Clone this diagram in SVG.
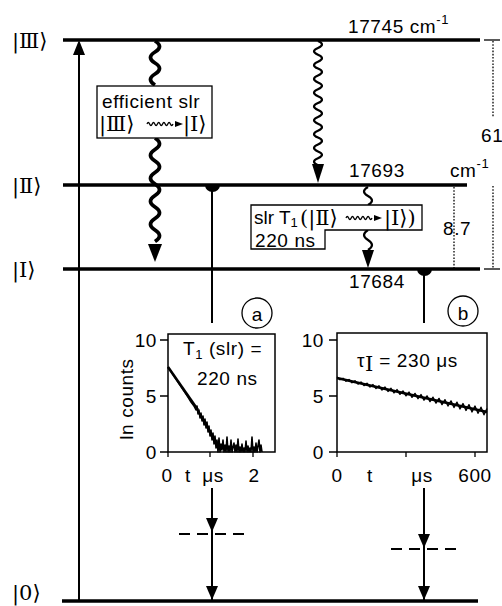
<svg xmlns="http://www.w3.org/2000/svg" width="502" height="606" viewBox="0 0 502 606">
<style>
text{font-family:"Liberation Sans",Arial,sans-serif;font-size:19px;fill:#000;letter-spacing:0.6px}
.ket{font-family:"DejaVu Serif","Liberation Serif",serif;font-size:21px;letter-spacing:0}
.lvl{stroke:#000;stroke-width:3.5;fill:none}
.ln{stroke:#000;stroke-width:2;fill:none}
.thin{stroke:#000;stroke-width:1.3;fill:none}
.dot{stroke:#000;stroke-width:1.3;stroke-dasharray:1.6 1.6;fill:none}
.dash{stroke:#000;stroke-width:2;stroke-dasharray:11 7;fill:none}
.box{fill:#fff;stroke:#000;stroke-width:1.3}
.head{fill:#000}
.wav1{stroke:#000;stroke-width:3.8;fill:none}
.wav2{stroke:#000;stroke-width:2.2;fill:none}
.data{stroke:#000;fill:none;stroke-linejoin:round}
</style>

<g id="levels">
  <line class="lvl" x1="63" y1="40" x2="480" y2="40"/>
  <line class="lvl" x1="63" y1="185" x2="467" y2="185"/>
  <line class="lvl" x1="63" y1="269" x2="480" y2="269"/>
  <line class="lvl" x1="62" y1="601" x2="478" y2="601"/>
  <text class="ket" x="12" y="48">|Ⅲ⟩</text>
  <text class="ket" x="12" y="193">|Ⅱ⟩</text>
  <text class="ket" x="12" y="277">|Ⅰ⟩</text>
  <text class="ket" x="12" y="600">|0⟩</text>
  <text x="348" y="33">17745 cm<tspan font-size="13" dy="-9">-1</tspan></text>
  <text x="349" y="177">17693</text>
  <text x="450" y="177">cm<tspan font-size="13" dy="-9">-1</tspan></text>
  <text x="349" y="288">17684</text>
</g>

<g id="dimensions">
  <line class="thin" x1="484" y1="40" x2="500" y2="40"/>
  <line class="thin" x1="484" y1="269" x2="500" y2="269"/>
  <line class="dot" x1="493" y1="41" x2="493" y2="117"/>
  <line class="dot" x1="493" y1="186" x2="493" y2="268"/>
  <line class="dot" x1="454" y1="187" x2="454" y2="268"/>
  <text x="481" y="142">61</text>
  <text x="443" y="235">8.7</text>
</g>

<g id="connectors">
  <!-- pump arrow -->
  <line class="ln" x1="79" y1="600" x2="79" y2="50"/>
  <polygon class="head" points="79,40 73,55 85,55"/>
  <!-- efficient slr wave -->
  <path class="wav1" d="M155,41 q9,5.5 0,11 t0,11 t0,11 t0,11"/>
  <path class="wav1" d="M155,138 q9,5.75 0,11.5 t0,11.5 t0,11.5 t0,11.5 t0,11.5 t0,11.5 t0,11.5 t0,11.5 t0,11.5"/>
  <polygon class="head" points="155,262 148,244 162,244"/>
  <!-- III -> II wave -->
  <path class="wav2" d="M318,41 q8,3.45 0,6.9 t0,6.9 t0,6.9 t0,6.9 t0,6.9 t0,6.9 t0,6.9 t0,6.9 t0,6.9 t0,6.9 t0,6.9 t0,6.9 t0,6.9 t0,6.9 t0,6.9 t0,6.9 t0,6.9 t0,6.9"/>
  <polygon class="head" points="318,183 312,164 324,164"/>
  <!-- II -> I wave -->
  <path class="wav2" d="M368,187 q-8,4.5 0,9 t0,9"/>
  <path class="wav2" d="M368,230 q-8,5 0,10 t0,10"/>
  <polygon class="head" points="368,268 362,250 374,250"/>
  <!-- lines to plots -->
  <line class="ln" x1="212" y1="185" x2="212" y2="323"/>
  <path class="head" d="M205,185 A7.5,7 0 0 0 220,185 Z"/>
  <line class="ln" x1="424" y1="269" x2="424" y2="323"/>
  <path class="head" d="M417,269 A7.5,7 0 0 0 432,269 Z"/>
  <!-- lines below plots -->
  <line class="ln" x1="212" y1="488" x2="212" y2="600"/>
  <polygon class="head" points="212,532 206,518 218,518"/>
  <polygon class="head" points="212,600 206,586 218,586"/>
  <line class="dash" x1="179" y1="534" x2="246" y2="534"/>
  <line class="ln" x1="424" y1="488" x2="424" y2="600"/>
  <polygon class="head" points="424,548 418,534 430,534"/>
  <polygon class="head" points="424,600 418,586 430,586"/>
  <line class="dash" x1="391" y1="549" x2="458" y2="549"/>
</g>

<g id="box-efficient">
  <rect class="box" x="97" y="86" width="115" height="52"/>
  <text x="102" y="108">efficient slr</text>
  <text class="ket" x="99" y="131">|Ⅲ⟩</text>
  <path class="thin" d="M147,124 q1.3,-3 2.6,0 t2.6,0 t2.6,0 t2.6,0 t2.6,0 t2.6,0 t2.6,0 t2.6,0 t2.6,0 t2.6,0"/>
  <polygon class="head" points="183,124 175,121 175,127"/>
  <text class="ket" x="183" y="131">|Ⅰ⟩</text>
</g>

<g id="box-slr">
  <path class="box" d="M251,205 H422 V230 H325 V249 H251 Z"/>
  <text x="254" y="224" style="letter-spacing:0">slr T<tspan font-size="13" dy="2.5">1</tspan></text>
  <text class="ket" x="300" y="225">(|Ⅱ⟩</text>
  <path class="thin" d="M346,218 q1.3,-3 2.6,0 t2.6,0 t2.6,0 t2.6,0 t2.6,0 t2.6,0 t2.6,0 t2.6,0 t2.6,0 t2.6,0"/>
  <polygon class="head" points="382,218 374,215 374,221"/>
  <text class="ket" x="384" y="225">|Ⅰ⟩)</text>
  <text x="255" y="247">220 ns</text>
</g>

<g id="label-a">
  <circle class="thin" cx="257" cy="313" r="15"/>
  <text x="257" y="321" text-anchor="middle" font-size="24" style="letter-spacing:0">a</text>
</g>
<g id="label-b">
  <circle class="thin" cx="463" cy="311" r="15"/>
  <text x="463" y="320" text-anchor="middle" font-size="24" style="letter-spacing:0">b</text>
</g>

<g id="plot-a">
  <rect x="168" y="334" width="107" height="118" fill="none" stroke="#000" stroke-width="1.5"/>
  <path class="thin" d="M160,340 H168 M160,396 H168 M160,452 H168 M168,452 V457 M210,452 V457 M253,452 V457"/>
  <text x="157" y="347" text-anchor="end">10</text>
  <text x="157" y="403" text-anchor="end">5</text>
  <text x="157" y="459" text-anchor="end">0</text>
  <text x="167" y="482" text-anchor="middle">0</text>
  <text x="188" y="482" text-anchor="middle">t</text>
  <text x="213" y="482" text-anchor="middle">μs</text>
  <text x="254" y="482" text-anchor="middle">2</text>
  <text x="133" y="399" text-anchor="middle" transform="rotate(-90 133 399)">ln counts</text>
  <text x="183" y="355">T<tspan font-size="13" dy="4">1</tspan><tspan dy="-4"> (slr) =</tspan></text>
  <text x="197" y="385">220 ns</text>
  <polyline class="data" stroke-width="1.6" points="168,367 172,373 176,379 180,385 184,391 188,397 191,402 194,406 196,410 197,406 198,414 199,410 200,418 201,413 202,421 203,416 204,425 205,419 206,428 207,422 208,432 209,426 210,436 211,430 212,440 213,433 214,444 215,436 216,448 217,440 218,452 219,438 220,452 221,444 222,450 223,440 224,452 225,445 226,452 227,437 228,452 229,446 230,452 231,440 232,452 233,447 234,443 235,452 236,445 237,452 238,439 239,452 240,447 241,452 242,444 243,452 244,448 245,452 246,441 247,452 248,446 249,452 250,448 251,452 252,437 253,452 254,447 255,452 256,443 257,452 258,446 259,440 260,452 261,445 262,452"/>
  <line class="data" stroke-width="2.6" x1="168" y1="367" x2="198" y2="410"/>
</g>

<g id="plot-b">
  <rect x="337" y="333" width="150" height="119" fill="none" stroke="#000" stroke-width="1.5"/>
  <path class="thin" d="M329,340 H337 M329,396 H337 M329,452 H337 M337,452 V457 M406,452 V457 M475,452 V457"/>
  <text x="324" y="347" text-anchor="end">10</text>
  <text x="324" y="403" text-anchor="end">5</text>
  <text x="324" y="459" text-anchor="end">0</text>
  <text x="337" y="482" text-anchor="middle">0</text>
  <text x="370" y="482" text-anchor="middle">t</text>
  <text x="422" y="482" text-anchor="middle">μs</text>
  <text x="475" y="482" text-anchor="middle">600</text>
  <text x="357" y="367">τ<tspan class="ket" font-size="14" dy="4">Ⅰ</tspan><tspan dy="-4"> = 230 μs</tspan></text>
  <line class="data" stroke-width="2.8" x1="337" y1="378" x2="487" y2="412"/>
  <polyline class="data" stroke-width="1.4" points="337,377 340,379.7 343,378.3 346,381.2 349,379.5 352,382.7 355,380.8 358,384.1 361,382 364,385.6 367,383.3 370,387 373,384.6 376,388.5 379,385.8 382,390 385,387.1 388,391.4 391,388.3 394,392.9 397,389.6 400,394.3 403,390.9 406,395.8 409,392.1 412,397.3 415,393.4 418,398.7 421,394.6 424,400.2 427,395.9 430,401.6 433,397.2 436,403.1 439,398.4 442,404.6 445,399.7 448,406 451,400.9 454,407.5 457,402.2 460,408.9 463,403.5 466,410.4 469,404.7 472,411.9 475,406 478,413.3 481,407.2 484,414.8 487,408.5"/>
</g>
</svg>
